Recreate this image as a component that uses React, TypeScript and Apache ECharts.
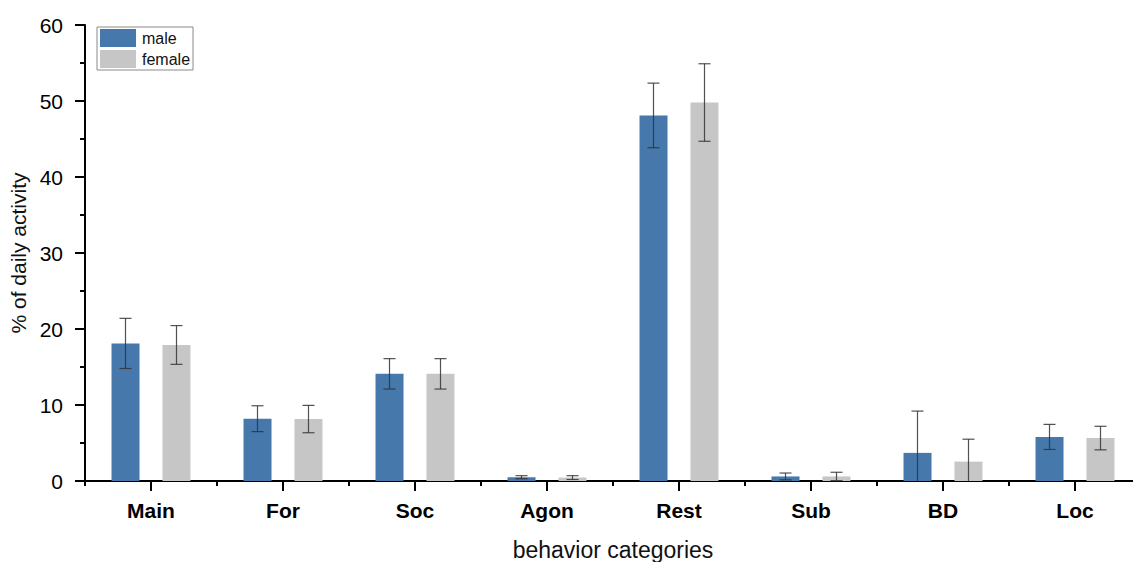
import React, { useEffect, useRef } from "react";
import * as echarts from "echarts";

// Behaviour categories on the x axis
const categories = ["Main", "For", "Soc", "Agon", "Rest", "Sub", "BD", "Loc"];

// Mean % of daily activity and standard deviation, by sex
const maleMean = [18.1, 8.2, 14.1, 0.5, 48.1, 0.6, 3.7, 5.8];
const maleErr = [3.3, 1.7, 2.0, 0.2, 4.25, 0.45, 5.5, 1.65];
const femaleMean = [17.9, 8.15, 14.1, 0.45, 49.8, 0.6, 2.55, 5.65];
const femaleErr = [2.55, 1.8, 2.0, 0.25, 5.1, 0.55, 2.95, 1.55];

const yTicks = [0, 10, 20, 30, 40, 50, 60];

const MALE_COLOR = "#4678ac";
const FEMALE_COLOR = "#c6c6c6";
const BAR_WIDTH = 28;
const BAR_GAP_PX = 23;
const FONT = "'Liberation Sans', Arial, Helvetica, sans-serif";

function errorData(mean: number[], err: number[]) {
  return mean.map((m, i) => [i, Math.max(0, m - err[i]), m + err[i], m - err[i] < 0 ? 1 : 0]);
}

function errorSeries(name: string, mean: number[], err: number[], offset: number) {
  return {
    type: "custom",
    name,
    xAxisIndex: 0,
    yAxisIndex: 0,
    z: 10,
    data: errorData(mean, err),
    encode: { x: 0, y: [1, 2] },
    renderItem: (_params: any, api: any) => {
      const i = api.value(0);
      const lo = api.value(1);
      const hi = api.value(2);
      const clipped = api.value(3) === 1;
      const pLo = api.coord([i, lo]);
      const pHi = api.coord([i, hi]);
      const x = pLo[0] + offset;
      const cap = 6;
      const style = { stroke: "#333333", lineWidth: 1.2, opacity: 0.85 };
      const children: any[] = [
        { type: "line", shape: { x1: x, y1: pHi[1], x2: x, y2: pLo[1] }, style },
        { type: "line", shape: { x1: x - cap, y1: pHi[1], x2: x + cap, y2: pHi[1] }, style },
      ];
      if (!clipped) {
        children.push({ type: "line", shape: { x1: x - cap, y1: pLo[1], x2: x + cap, y2: pLo[1] }, style });
      }
      return { type: "group", children };
    },
  };
}

export default function App() {
  const ref = useRef<HTMLDivElement>(null);

  useEffect(() => {
    if (!ref.current) return;
    const chart = echarts.init(ref.current, null, { renderer: "svg" });
    const half = (BAR_WIDTH + BAR_GAP_PX) / 2;

    chart.setOption({
      animation: false,
      backgroundColor: "#ffffff",
      textStyle: { fontFamily: FONT },
      grid: { left: 85, top: 25, width: 1056, height: 456, outerBoundsMode: "none", containLabel: false },
      legend: {
        data: ["male", "female"],
        orient: "vertical",
        left: 97,
        top: 27,
        padding: [2, 3, 2, 3],
        itemGap: 3,
        itemWidth: 36,
        itemHeight: 18,
        icon: "rect",
        borderColor: "#8a8a8a",
        borderWidth: 1,
        textStyle: { fontSize: 16, color: "#111", fontFamily: FONT, padding: [0, 0, 0, 1] },
      },
      xAxis: [
        {
          type: "category",
          data: categories,
          position: "bottom",
          name: "behavior categories",
          nameLocation: "middle",
          nameGap: 57,
          nameTextStyle: { fontSize: 23, color: "#111", fontFamily: FONT },
          axisLine: { show: true, lineStyle: { color: "#000", width: 2 } },
          axisTick: { show: true, alignWithLabel: true, length: 10, lineStyle: { color: "#000", width: 2 } },
          axisLabel: { fontSize: 21, fontWeight: "bold", color: "#000", margin: 19, fontFamily: FONT },
          splitLine: { show: false },
        },
        {
          type: "category",
          data: categories,
          position: "bottom",
          axisLine: { show: false },
          axisTick: { show: true, alignWithLabel: false, length: 5, lineStyle: { color: "#000", width: 2 } },
          axisLabel: { show: false },
          splitLine: { show: false },
        },
      ],
      yAxis: {
        type: "value",
        min: yTicks[0],
        max: yTicks[yTicks.length - 1],
        interval: 10,
        name: "% of daily activity",
        nameLocation: "middle",
        nameGap: 55,
        nameTextStyle: { fontSize: 21, color: "#111", fontFamily: FONT },
        axisLine: { show: true, lineStyle: { color: "#000", width: 2 } },
        axisTick: { show: true, length: 10, lineStyle: { color: "#000", width: 2 } },
        minorTick: { show: true, splitNumber: 2, length: 5, lineStyle: { color: "#000", width: 2 } },
        axisLabel: { fontSize: 21, color: "#000", margin: 22, fontFamily: FONT },
        splitLine: { show: false },
      },
      series: [
        {
          type: "bar",
          name: "male",
          data: maleMean,
          barWidth: BAR_WIDTH,
          barGap: `${Math.round((BAR_GAP_PX / BAR_WIDTH) * 100)}%`,
          itemStyle: { color: MALE_COLOR },
        },
        {
          type: "bar",
          name: "female",
          data: femaleMean,
          barWidth: BAR_WIDTH,
          itemStyle: { color: FEMALE_COLOR },
        },
        errorSeries("male sd", maleMean, maleErr, -half),
        errorSeries("female sd", femaleMean, femaleErr, half),
      ],
    });

    return () => chart.dispose();
  }, []);

  return (
    <div
      ref={ref}
      style={{ position: "fixed", left: 0, top: 0, width: 1133, height: 562, background: "#fff" }}
    />
  );
}
